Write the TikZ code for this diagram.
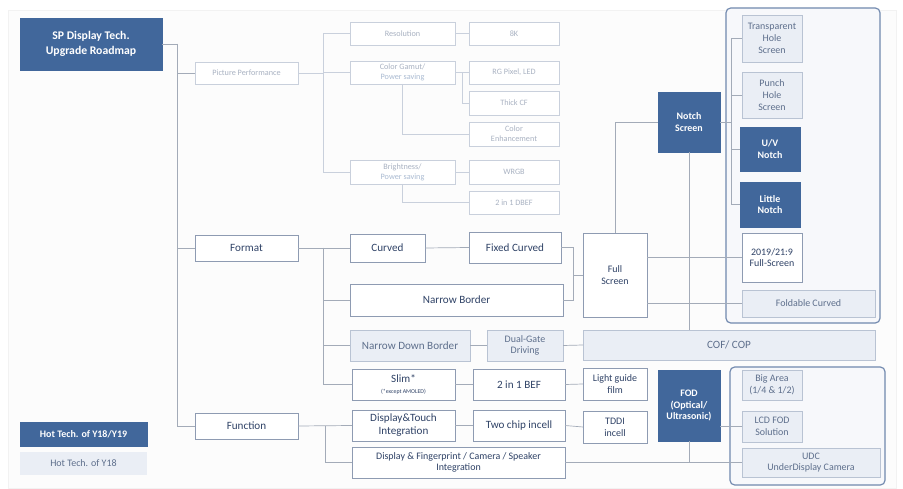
\documentclass[tikz,border=0pt]{standalone}
\usepackage{fontspec}
\setmainfont{Carlito}
\usetikzlibrary{shadows}
\definecolor{dk}{HTML}{41679B}
\definecolor{lf}{HTML}{EAEEF5}
\definecolor{bd}{HTML}{8E9BB2}
\definecolor{lbd}{HTML}{B9C3D3}
\definecolor{tx}{HTML}{2F4266}
\definecolor{ltx}{HTML}{5E6F8C}
\definecolor{ftx}{HTML}{A9B2C2}
\definecolor{fbd}{HTML}{C9D0DC}
\definecolor{lnc}{HTML}{A3ABB8}
\definecolor{grpb}{HTML}{7088AE}
\definecolor{grpf}{HTML}{F7F8FB}
\newcommand\mkbox[7]{\node[#6, minimum width={(#4-#2)*0.03cm}, minimum height={(#5-#3)*0.03cm}] (#1) at ({(#2+#4)/2},{(#3+#5)/2}) {#7};}
\begin{document}
\begin{tikzpicture}[x=0.03cm,y=-0.03cm,
  base/.style={inner sep=1pt, outer sep=0pt, align=center, font=\fontsize{9.5}{11}\selectfont},
  shad/.style={drop shadow={shadow xshift=0.7pt, shadow yshift=-0.7pt, opacity=0.25, fill=black!60}},
  wb/.style={base, shad, draw=bd, fill=white, text=tx},
  lb/.style={base, shad, draw=lbd, fill=lf, text=ltx},
  db/.style={base, shad, draw=dk, fill=dk, text=white, font=\fontsize{9}{10.5}\selectfont\bfseries},
  fb/.style={base, draw=fbd, fill=white, text=ftx, font=\fontsize{7}{8.5}\selectfont},
  sm/.style={font=\fontsize{8.5}{10}\selectfont},
  ln/.style={draw=lnc, line width=0.6pt},
  fln/.style={draw=fbd, line width=0.6pt},
  grp/.style={draw=grpb, line width=1pt, fill=grpf, rounded corners=4pt}]
\useasboundingbox (0,0) rectangle (903,489);
\fill[white] (0,0) rectangle (903,489);
\draw[draw=black!5, fill=black!1] (8,10) rectangle (896,488);
% groups
\draw[grp] (726,8) rectangle (880,323);
\draw[grp] (730,367) rectangle (885,485);
% title
\mkbox{title}{20}{18}{162}{70}{db, font=\fontsize{10}{12.5}\selectfont\bfseries}{SP Display Tech.\\Upgrade Roadmap}
% picture performance (faded)
\mkbox{pp}{195}{62}{298}{84}{fb}{Picture Performance}
\mkbox{res}{350}{22}{455}{45}{fb}{Resolution}
\mkbox{k8}{469}{22}{559}{45}{fb}{8K}
\mkbox{cg}{350}{61}{455}{84}{fb}{Color Gamut/\\\textcolor{dk!45}{Power saving}}
\mkbox{rg}{469}{61}{559}{84}{fb}{RG Pixel, LED}
\mkbox{tcf}{469}{91}{559}{115}{fb}{Thick CF}
\mkbox{ce}{469}{122}{559}{146}{fb}{Color\\Enhancement}
\mkbox{br}{350}{160}{455}{184}{fb}{Brightness/\\\textcolor{dk!45}{Power saving}}
\mkbox{wrgb}{469}{160}{559}{184}{fb}{WRGB}
\mkbox{dbef}{469}{191}{559}{214}{fb}{2 in 1 DBEF}
% format
\mkbox{fmt}{195}{235}{298}{261}{wb}{Format}
\mkbox{cur}{350}{234}{425}{262}{wb}{Curved}
\mkbox{fix}{469}{232}{561}{263}{wb}{Fixed Curved}
\mkbox{nb}{350}{284}{563}{316}{wb}{Narrow Border}
\mkbox{nd}{350}{330}{470}{361}{lb}{Narrow Down Border}
\mkbox{dg}{487}{330}{563}{361}{lb, sm}{Dual-Gate\\Driving}
\mkbox{cof}{583}{330}{875}{360}{lb}{COF/ COP}
\mkbox{slim}{352}{369}{455}{400}{wb}{Slim*\\[-2pt]{\fontsize{5}{6}\selectfont(*except AMOLED)}}
\mkbox{bef}{473}{369}{565}{400}{wb}{2 in 1 BEF}
\mkbox{lgf}{583}{368}{647}{400}{wb, sm}{Light guide\\film}
\mkbox{full}{583}{233}{647}{317}{wb, sm}{Full\\Screen}
\mkbox{notch}{658}{92}{720}{152}{db, sm, font=\fontsize{8.5}{10}\selectfont\bfseries}{Notch\\Screen}
\mkbox{tr}{742}{15}{802}{62}{lb, sm}{Transparent\\Hole\\Screen}
\mkbox{ph}{742}{72}{802}{118}{lb, sm}{Punch\\Hole\\Screen}
\mkbox{uv}{740}{127}{800}{171}{db, font=\fontsize{8.5}{10}\selectfont\bfseries}{U/V\\Notch}
\mkbox{lt}{740}{182}{800}{227}{db, font=\fontsize{8.5}{10}\selectfont\bfseries}{Little\\Notch}
\mkbox{f19}{742}{233}{802}{282}{wb, sm}{2019/21:9\\Full-Screen}
\mkbox{fold}{742}{290}{875}{317}{lb, sm}{Foldable Curved}
% function
\mkbox{fun}{195}{413}{298}{439}{wb}{Function}
\mkbox{dt}{352}{410}{455}{441}{wb}{Display\&Touch\\Integration}
\mkbox{tc}{473}{410}{565}{441}{wb}{Two chip incell}
\mkbox{tddi}{583}{411}{647}{443}{wb, sm}{TDDI\\incell}
\mkbox{df}{352}{447}{565}{478}{wb, sm}{Display \& Fingerprint / Camera / Speaker\\Integration}
\mkbox{fod}{658}{370}{720}{441}{db, font=\fontsize{8.5}{10}\selectfont\bfseries}{FOD\\(Optical/\\Ultrasonic)}
\mkbox{big}{742}{370}{802}{400}{lb, sm}{Big Area\\(1/4 \& 1/2)}
\mkbox{lcd}{742}{411}{802}{442}{lb, sm}{LCD FOD\\Solution}
\mkbox{udc}{742}{448}{880}{477}{lb, sm}{UDC\\UnderDisplay Camera}
% legend
\mkbox{leg1}{20}{422}{147}{446}{db, font=\fontsize{8.5}{10}\selectfont\bfseries}{Hot Tech. of Y18/Y19}
\mkbox{leg2}{20}{452}{147}{475}{base, fill=lf, text=ltx, font=\fontsize{8.5}{10}\selectfont}{Hot Tech. of Y18}
% connectors
\coordinate (t1) at (177,44);
\draw[ln] (title.east) -- (t1) |- (pp.west);
\draw[ln] (t1) |- (fmt.west);
\draw[ln] (t1) |- (fun.west);
\coordinate (p1) at (323,73);
\draw[fln] (pp.east) -- (p1) |- (res.west);
\draw[fln] (p1) |- (cg.west);
\draw[fln] (p1) |- (br.west);
\draw[fln] (res.east) -- (k8.west);
\draw[fln] (cg.east) -- (rg.west);
\coordinate (c1) at (462,73);
\draw[fln] (c1) |- (tcf.west);
\draw[fln] (cg.south) |- (ce.west);
\draw[fln] (br.east) -- (wrgb.west);
\draw[fln] (br.south) |- (dbef.west);
\coordinate (f1) at (323,248);
\draw[ln] (fmt.east) -- (f1) |- (nb.west);
\draw[ln] (f1) |- (cur.west);
\draw[ln] (f1) |- (nd.west);
\draw[ln] (f1) |- (slim.west);
\draw[ln] (cur.east) -- (fix.west);
\coordinate (fs1) at (573,275);
\draw[ln] (fix.east) -| (fs1);
\draw[ln] (nb.east) -| (fs1);
\draw[ln] (fs1) -- (full.west);
\draw[ln] (full.north) |- (notch.west);
\coordinate (n1) at (731,122);
\draw[ln] (notch.east) -- (n1);
\draw[ln] (n1) |- (tr.west);
\draw[ln] (n1) |- (ph.west);
\draw[ln] (n1) |- (uv.west);
\draw[ln] (n1) |- (lt.west);
\draw[ln] (full.east |- f19.west) -- (f19.west);
\draw[ln] (full.east |- fold.west) -- (fold.west);
\draw[ln] (notch.south) -- (notch.south |- cof.north);
\draw[ln] (nd.east) -- (dg.west);
\draw[ln] (dg.east) -- (cof.west);
\draw[ln] (slim.east) -- (bef.west);
\draw[ln] (bef.east) -- (lgf.west);
\coordinate (u1) at (325,426);
\draw[ln] (fun.east) -- (dt.west);
\draw[ln] (u1) |- (df.west);
\draw[ln] (dt.east) -- (tc.west);
\draw[ln] (tc.east) -- (tddi.west);
\draw[ln] (fod.east |- lcd.west) -- (lcd.west);
\draw[ln] (df.east) -- (udc.west);
\draw[ln] (fod.south) -- (fod.south |- df.east);
\end{tikzpicture}
\end{document}
